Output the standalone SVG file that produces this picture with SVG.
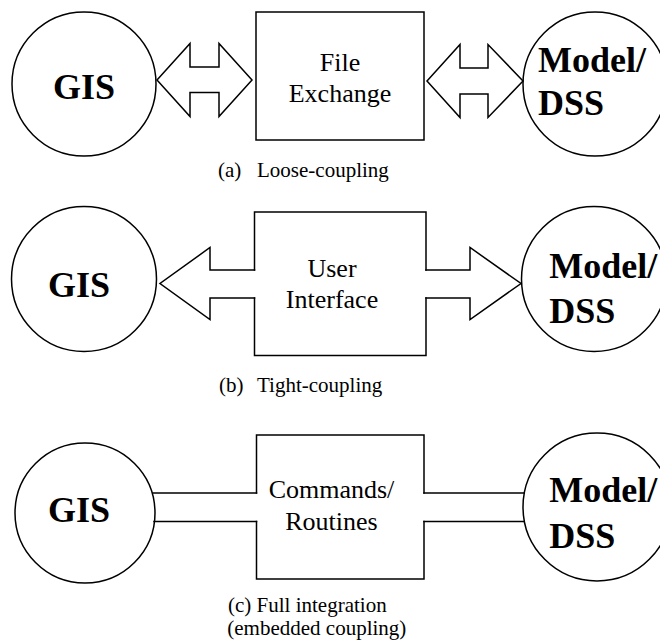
<svg xmlns="http://www.w3.org/2000/svg" width="660" height="641" viewBox="0 0 660 641">
  <style>
    .shape { fill: #fff; stroke: #000; stroke-width: 1.5; }
    .open { fill: none; stroke: #000; stroke-width: 1.5; stroke-linecap: square; stroke-linejoin: miter; }
    text { font-family: 'Liberation Serif', Tinos, 'Times New Roman', Times, 'DejaVu Serif', serif; fill: #000; }
    .big { font-weight: bold; font-size: 36px; }
    .body { font-size: 26px; text-anchor: middle; }
    .cap { font-size: 21px; }
  </style>
  <rect width="660" height="641" fill="#fff"/>

  <!-- (a) loose coupling -->
  <g id="gis-a">
    <circle class="shape" cx="84" cy="84" r="72"/>
    <text class="big" x="53" y="99">GIS</text>
  </g>
  <g id="file-exchange">
    <rect class="shape" x="256" y="12" width="168" height="128"/>
    <text class="body" x="340" y="70.5">File</text>
    <text class="body" x="340" y="101.5">Exchange</text>
  </g>
  <g id="model-a">
    <circle class="shape" cx="595" cy="84" r="72"/>
    <text class="big" x="538" y="72">Model/</text>
    <text class="big" x="538" y="115">DSS</text>
  </g>
  <g id="connectors-a">
    <polygon class="shape" points="157,80 190,43.5 190,67 219,67 219,43.5 252,80 219,116.5 219,92.5 190,92.5 190,116.5"/>
    <polygon class="shape" points="427,81 460,44.5 460,68 488,68 488,44.5 523,81 488,117.5 488,94 460,94 460,117.5"/>
  </g>
  <text class="cap" x="218" y="176.7">(a) <tspan x="257">Loose-coupling</tspan></text>

  <!-- (b) tight coupling -->
  <g id="gis-b">
    <circle class="shape" cx="84" cy="279" r="72.5"/>
    <text class="big" x="48" y="296.7">GIS</text>
  </g>
  <g id="user-interface">
    <path class="open" d="M254.5,270 V212 H426 V270 M426,298 V355.5 H254.5 V298"/>
    <text class="body" x="332" y="276.7">User</text>
    <text class="body" x="332" y="308.3">Interface</text>
  </g>
  <g id="model-b">
    <circle class="shape" cx="594" cy="279" r="72.5"/>
    <text class="big" x="549.3" y="278.3">Model/</text>
    <text class="big" x="549.3" y="323.3">DSS</text>
  </g>
  <g id="connectors-b">
    <path class="open" d="M254.5,270 H210 V247.5 L160,283.5 L210,319.5 V298 H254.5"/>
    <path class="open" d="M426,270 H470 V247.5 L521,283.5 L470,319.5 V298 H426"/>
  </g>
  <text class="cap" x="219" y="391.7">(b) <tspan x="257">Tight-coupling</tspan></text>

  <!-- (c) full integration -->
  <g id="gis-c">
    <circle class="shape" cx="85" cy="513" r="70"/>
    <text class="big" x="48" y="521.7">GIS</text>
  </g>
  <g id="commands-routines">
    <path class="open" d="M256.5,493 V435 H424 V493 M424,521.5 V579 H256.5 V521.5"/>
    <text class="body" x="331.5" y="498.3">Commands/</text>
    <text class="body" x="331.5" y="530">Routines</text>
  </g>
  <g id="model-c">
    <circle class="shape" cx="597" cy="507" r="74"/>
    <text class="big" x="549.3" y="501.7">Model/</text>
    <text class="big" x="549.3" y="548.3">DSS</text>
  </g>
  <g id="connectors-c">
    <path class="open" d="M153,493 H256.5 M154,521.5 H256.5"/>
    <path class="open" d="M424,493 H524 M424,521.5 H524"/>
  </g>
  <text class="cap" x="228" y="611.7">(c) Full integration</text>
  <text class="cap" x="227.3" y="635">(embedded coupling)</text>
</svg>
